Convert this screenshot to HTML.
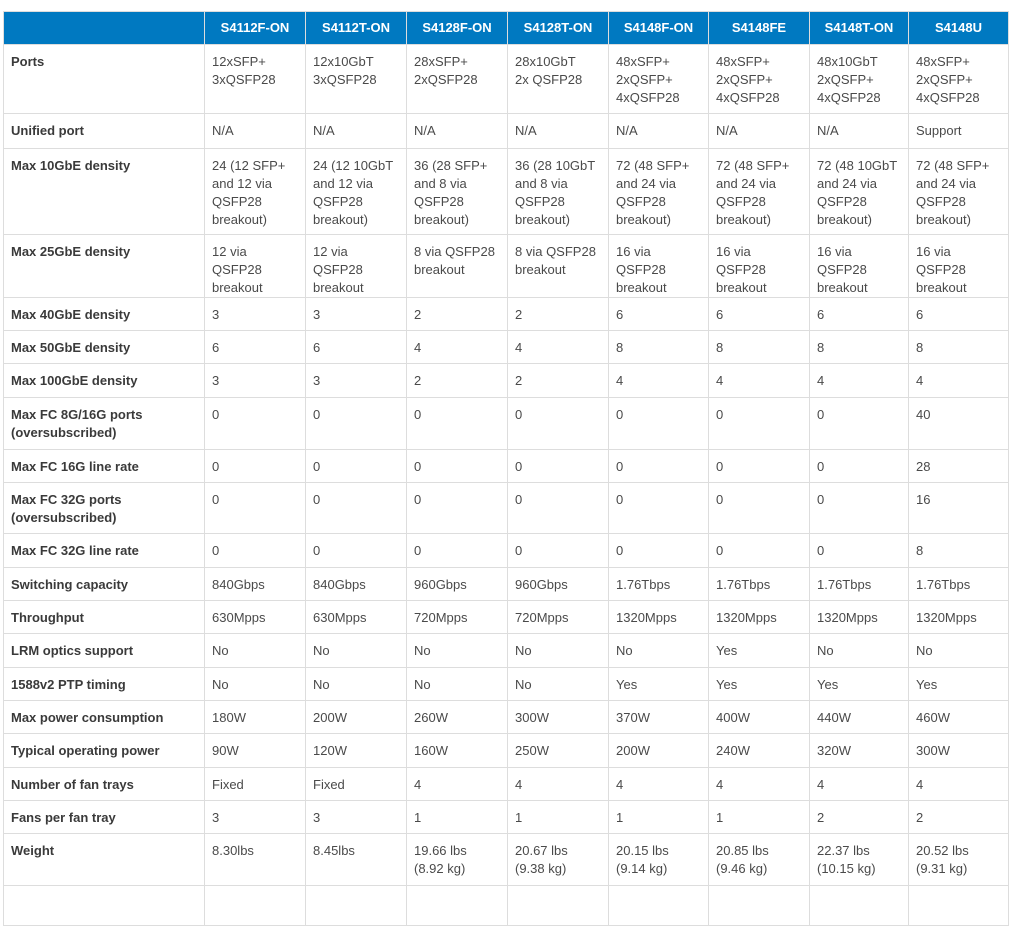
<!DOCTYPE html>
<html><head><meta charset="utf-8">
<style>
body{margin:0;background:#fff;width:1009px;height:878px;overflow:hidden;font-family:"Liberation Sans",sans-serif;}
table{position:absolute;left:3px;top:11px;border-collapse:collapse;table-layout:fixed;width:1005px;font-size:13px;line-height:18px;color:#4a4a4a;}
td,th{border:1px solid #ddd;padding:8px 8px 0 7px;vertical-align:top;text-align:left;overflow:hidden;}
th{background:#0079c1;color:#fff;font-weight:bold;text-align:center;vertical-align:middle;padding:0;border-color:#ddd;}
td:first-child{font-weight:bold;color:#3a3a3a;}
</style></head><body>
<table>
<colgroup><col style="width:201px"><col style="width:101px"><col style="width:101px"><col style="width:101px"><col style="width:101px"><col style="width:100px"><col style="width:101px"><col style="width:99px"><col style="width:100px"></colgroup>
<tr style="height:33px"><th></th><th>S4112F-ON</th><th>S4112T-ON</th><th>S4128F-ON</th><th>S4128T-ON</th><th>S4148F-ON</th><th>S4148FE</th><th>S4148T-ON</th><th>S4148U</th></tr>
<tr style="height:69px"><td>Ports</td><td>12xSFP+<br>3xQSFP28</td><td>12x10GbT<br>3xQSFP28</td><td>28xSFP+<br>2xQSFP28</td><td>28x10GbT<br>2x QSFP28</td><td>48xSFP+<br>2xQSFP+<br>4xQSFP28</td><td>48xSFP+<br>2xQSFP+<br>4xQSFP28</td><td>48x10GbT<br>2xQSFP+<br>4xQSFP28</td><td>48xSFP+<br>2xQSFP+<br>4xQSFP28</td></tr>
<tr style="height:35px"><td>Unified port</td><td>N/A</td><td>N/A</td><td>N/A</td><td>N/A</td><td>N/A</td><td>N/A</td><td>N/A</td><td>Support</td></tr>
<tr style="height:86px"><td>Max 10GbE density</td><td>24 (12 SFP+ and 12 via QSFP28 breakout)</td><td>24 (12 10GbT and 12 via QSFP28 breakout)</td><td>36 (28 SFP+ and 8 via QSFP28 breakout)</td><td>36 (28 10GbT and 8 via QSFP28 breakout)</td><td>72 (48 SFP+ and 24 via QSFP28 breakout)</td><td>72 (48 SFP+ and 24 via QSFP28 breakout)</td><td>72 (48 10GbT and 24 via QSFP28 breakout)</td><td>72 (48 SFP+ and 24 via QSFP28 breakout)</td></tr>
<tr style="height:51px"><td>Max 25GbE density</td><td>12 via QSFP28 breakout</td><td>12 via QSFP28 breakout</td><td>8 via QSFP28 breakout</td><td>8 via QSFP28 breakout</td><td>16 via QSFP28 breakout</td><td>16 via QSFP28 breakout</td><td>16 via QSFP28 breakout</td><td>16 via QSFP28 breakout</td></tr>
<tr style="height:33px"><td>Max 40GbE density</td><td>3</td><td>3</td><td>2</td><td>2</td><td>6</td><td>6</td><td>6</td><td>6</td></tr>
<tr style="height:33px"><td>Max 50GbE density</td><td>6</td><td>6</td><td>4</td><td>4</td><td>8</td><td>8</td><td>8</td><td>8</td></tr>
<tr style="height:34px"><td>Max 100GbE density</td><td>3</td><td>3</td><td>2</td><td>2</td><td>4</td><td>4</td><td>4</td><td>4</td></tr>
<tr style="height:52px"><td>Max FC 8G/16G ports (oversubscribed)</td><td>0</td><td>0</td><td>0</td><td>0</td><td>0</td><td>0</td><td>0</td><td>40</td></tr>
<tr style="height:33px"><td>Max FC 16G line rate</td><td>0</td><td>0</td><td>0</td><td>0</td><td>0</td><td>0</td><td>0</td><td>28</td></tr>
<tr style="height:51px"><td>Max FC 32G ports (oversubscribed)</td><td>0</td><td>0</td><td>0</td><td>0</td><td>0</td><td>0</td><td>0</td><td>16</td></tr>
<tr style="height:34px"><td>Max FC 32G line rate</td><td>0</td><td>0</td><td>0</td><td>0</td><td>0</td><td>0</td><td>0</td><td>8</td></tr>
<tr style="height:33px"><td>Switching capacity</td><td>840Gbps</td><td>840Gbps</td><td>960Gbps</td><td>960Gbps</td><td>1.76Tbps</td><td>1.76Tbps</td><td>1.76Tbps</td><td>1.76Tbps</td></tr>
<tr style="height:33px"><td>Throughput</td><td>630Mpps</td><td>630Mpps</td><td>720Mpps</td><td>720Mpps</td><td>1320Mpps</td><td>1320Mpps</td><td>1320Mpps</td><td>1320Mpps</td></tr>
<tr style="height:34px"><td>LRM optics support</td><td>No</td><td>No</td><td>No</td><td>No</td><td>No</td><td>Yes</td><td>No</td><td>No</td></tr>
<tr style="height:33px"><td>1588v2 PTP timing</td><td>No</td><td>No</td><td>No</td><td>No</td><td>Yes</td><td>Yes</td><td>Yes</td><td>Yes</td></tr>
<tr style="height:33px"><td>Max power consumption</td><td>180W</td><td>200W</td><td>260W</td><td>300W</td><td>370W</td><td>400W</td><td>440W</td><td>460W</td></tr>
<tr style="height:34px"><td>Typical operating power</td><td>90W</td><td>120W</td><td>160W</td><td>250W</td><td>200W</td><td>240W</td><td>320W</td><td>300W</td></tr>
<tr style="height:33px"><td>Number of fan trays</td><td>Fixed</td><td>Fixed</td><td>4</td><td>4</td><td>4</td><td>4</td><td>4</td><td>4</td></tr>
<tr style="height:33px"><td>Fans per fan tray</td><td>3</td><td>3</td><td>1</td><td>1</td><td>1</td><td>1</td><td>2</td><td>2</td></tr>
<tr style="height:52px"><td>Weight</td><td>8.30lbs</td><td>8.45lbs</td><td>19.66 lbs (8.92 kg)</td><td>20.67 lbs (9.38 kg)</td><td>20.15 lbs (9.14 kg)</td><td>20.85 lbs (9.46 kg)</td><td>22.37 lbs (10.15 kg)</td><td>20.52 lbs (9.31 kg)</td></tr>
<tr style="height:40px"><td></td><td></td><td></td><td></td><td></td><td></td><td></td><td></td><td></td></tr>
</table>
</body></html>
